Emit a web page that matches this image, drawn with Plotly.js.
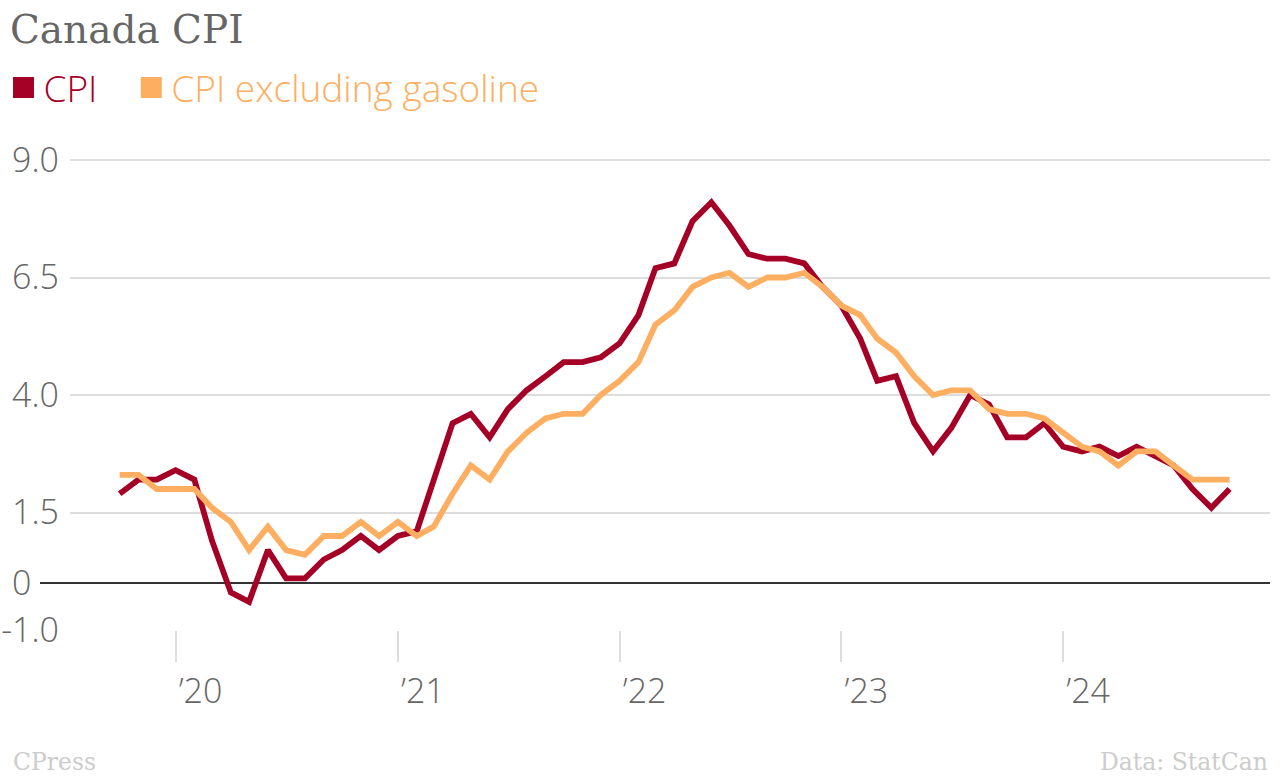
<!DOCTYPE html>
<html>
<head>
<meta charset="utf-8">
<script src="https://cdn.plot.ly/plotly-3.0.1.min.js"></script>
<style>html,body{margin:0;padding:0;background:#fff;}#chart{width:1280px;height:776px;}</style>
</head>
<body>
<div id="chart"></div>
<script>
const months = [
  "2019-10-01","2019-11-01","2019-12-01",
  "2020-01-01","2020-02-01","2020-03-01","2020-04-01","2020-05-01","2020-06-01","2020-07-01","2020-08-01","2020-09-01","2020-10-01","2020-11-01","2020-12-01",
  "2021-01-01","2021-02-01","2021-03-01","2021-04-01","2021-05-01","2021-06-01","2021-07-01","2021-08-01","2021-09-01","2021-10-01","2021-11-01","2021-12-01",
  "2022-01-01","2022-02-01","2022-03-01","2022-04-01","2022-05-01","2022-06-01","2022-07-01","2022-08-01","2022-09-01","2022-10-01","2022-11-01","2022-12-01",
  "2023-01-01","2023-02-01","2023-03-01","2023-04-01","2023-05-01","2023-06-01","2023-07-01","2023-08-01","2023-09-01","2023-10-01","2023-11-01","2023-12-01",
  "2024-01-01","2024-02-01","2024-03-01","2024-04-01","2024-05-01","2024-06-01","2024-07-01","2024-08-01","2024-09-01","2024-10-01"
];
const cpi = [
  1.9, 2.2, 2.2,
  2.4, 2.2, 0.9, -0.2, -0.4, 0.7, 0.1, 0.1, 0.5, 0.7, 1.0, 0.7,
  1.0, 1.1, 2.2, 3.4, 3.6, 3.1, 3.7, 4.1, 4.4, 4.7, 4.7, 4.8,
  5.1, 5.7, 6.7, 6.8, 7.7, 8.1, 7.6, 7.0, 6.9, 6.9, 6.8, 6.3,
  5.9, 5.2, 4.3, 4.4, 3.4, 2.8, 3.3, 4.0, 3.8, 3.1, 3.1, 3.4,
  2.9, 2.8, 2.9, 2.7, 2.9, 2.7, 2.5, 2.0, 1.6, 2.0
];
const cpiExGasoline = [
  2.3, 2.3, 2.0,
  2.0, 2.0, 1.6, 1.3, 0.7, 1.2, 0.7, 0.6, 1.0, 1.0, 1.3, 1.0,
  1.3, 1.0, 1.2, 1.9, 2.5, 2.2, 2.8, 3.2, 3.5, 3.6, 3.6, 4.0,
  4.3, 4.7, 5.5, 5.8, 6.3, 6.5, 6.6, 6.3, 6.5, 6.5, 6.6, 6.3,
  5.9, 5.7, 5.2, 4.9, 4.4, 4.0, 4.1, 4.1, 3.7, 3.6, 3.6, 3.5,
  3.2, 2.9, 2.8, 2.5, 2.8, 2.8, 2.5, 2.2, 2.2, 2.2
];
const seriesNames = ["CPI", "CPI excluding gasoline"];
const seriesColors = ["#a50026", "#fdae61"];
const yTickVals = [9.0, 6.5, 4.0, 1.5, 0, -1.0];
const yTickText = ["9.0", "6.5", "4.0", "1.5", "0", "-1.0"];
const xTickVals = ["2020-01-01", "2021-01-01", "2022-01-01", "2023-01-01", "2024-01-01"];
const xTickText = ["\u201920", "\u201921", "\u201922", "\u201923", "\u201924"];

// left-align short y labels by padding them with invisible characters
const yTickTextAligned = yTickText.map(t => t.length < 3
  ? t + '<span style="color:rgba(0,0,0,0)">' + ".0".slice(0, 3 - t.length) + '</span>'
  : t);

const seriesValues = [cpi, cpiExGasoline];
const traces = [];
seriesValues.forEach((vals, i) => {
  traces.push({
    type: "scatter", mode: "lines", x: months, y: vals, name: seriesNames[i],
    line: {color: seriesColors[i], width: 5.8}, showlegend: false, hoverinfo: "x+y"
  });
});
const legendPad = ["\u00a0\u00a0\u00a0", ""];
seriesNames.forEach((nm, i) => {
  traces.push({
    type: "scatter", mode: "markers", x: [null], y: [null],
    name: '<span style="color:' + seriesColors[i] + '">' + nm + '</span>' + legendPad[i],
    marker: {symbol: "square", size: 16, color: seriesColors[i], line: {color: seriesColors[i], width: 5}},
    showlegend: true, hoverinfo: "skip"
  });
});

const layout = {
  width: 1280, height: 776,
  margin: {l: 70, r: 10, t: 150, b: 146},
  paper_bgcolor: "#fff", plot_bgcolor: "rgba(0,0,0,0)",
  font: {family: "Open Sans", color: "#666"},
  title: {
    text: "Canada CPI", x: 10/1280, xanchor: "left", xref: "container",
    y: 1 - 16/776, yanchor: "top", yref: "container",
    font: {family: "DejaVu Serif", size: 39, color: "#666"}
  },
  showlegend: true,
  legend: {
    orientation: "h", xref: "container", yref: "container",
    x: 3.5/1280, xanchor: "left", y: 1 - 57/776, yanchor: "top",
    font: {family: "Open Sans", size: 37, weight: 300, color: "#666"},
    itemclick: false, bgcolor: "rgba(0,0,0,0)"
  },
  xaxis: {
    type: "date", range: ["2019-07-11 06:00", "2024-12-06 14:00"],
    tickvals: xTickVals, ticktext: xTickText,
    showgrid: false, zeroline: false, showline: false,
    ticks: "outside", ticklen: 31, tickwidth: 2, tickcolor: "#dddddd",
    ticklabelshift: 25,
    tickfont: {family: "Open Sans", size: 34, weight: 300, color: "#666"},
    fixedrange: true
  },
  yaxis: {
    range: [-1, 9.213],
    tickvals: yTickVals, ticktext: yTickTextAligned,
    showgrid: true, gridcolor: "#dddddd", gridwidth: 2,
    zeroline: true, zerolinecolor: "#333333", zerolinewidth: 2,
    showline: false, ticks: "", ticklabelstandoff: 10,
    tickfont: {family: "Open Sans", size: 34, weight: 300, color: "#666"},
    fixedrange: true
  },
  shapes: [
    {type: "line", xref: "paper", yref: "y", x0: -30/1200, x1: 0, y0: 0, y1: 0,
     line: {color: "#333333", width: 2}, layer: "below"}
  ],
  annotations: [
    {text: "CPress", xref: "paper", yref: "paper", x: -59/1200, y: (630-762)/480,
     xanchor: "left", yanchor: "middle", showarrow: false,
     font: {family: "DejaVu Serif", size: 23.5, color: "#cccccc"}},
    {text: "Data: StatCan", xref: "paper", yref: "paper", x: 1, y: (630-762)/480,
     xanchor: "right", yanchor: "middle", showarrow: false,
     font: {family: "DejaVu Serif", size: 23.5, color: "#cccccc"}}
  ]
};

Plotly.newPlot("chart", traces, layout, {displayModeBar: false, responsive: false});
</script>
</body>
</html>
